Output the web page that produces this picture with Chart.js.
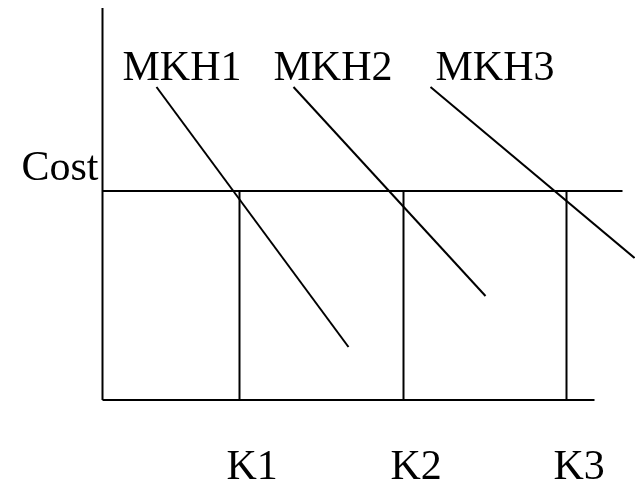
<!DOCTYPE html>
<html>
<head>
<meta charset="utf-8">
<script src="https://cdn.jsdelivr.net/npm/chart.js@4.4.1/dist/chart.umd.min.js"></script>
<style>
  html, body { margin: 0; padding: 0; background: #fff; }
  #wrap { width: 635px; height: 484px; }
</style>
</head>
<body>
<div id="wrap"><canvas id="c" width="635" height="484"></canvas></div>
<script>
// === data (quantity on x, cost on y; origin at the axes' corner) ===
const axisTopY = 39.2;
const axisRightX = 49.2;
const costLevel = 20.9;
const costEndX = 52.0;

const kNames = ["K1", "K2", "K3"];
const kValues = [13.7, 30.1, 46.4];

const curveNames = ["MKH1", "MKH2", "MKH3"];
const curveStartX = [5.4, 19.1, 32.8];
const curveStartY = [31.3, 31.3, 31.3];
const curveEndX = [24.6, 38.3, 53.2];
const curveEndY = [5.3, 10.4, 14.2];

const costName = "Cost";

// text anchors (left / baseline), in the same units
const curveLabelAt = [[2.0, 32.0], [17.1, 32.0], [33.3, 32.0]];
const costLabelAt = [-8.1, 22.0];
const kLabelY = -7.9;
const kLabelDx = -1.3;

// === datasets ===
const lineStyle = {
  borderColor: "#000",
  borderWidth: 2,
  pointRadius: 0,
  showLine: true,
  fill: false,
  tension: 0,
};

const datasets = [];
datasets.push({ ...lineStyle, data: [{ x: 0, y: 0 }, { x: 0, y: axisTopY }] });
datasets.push({ ...lineStyle, data: [{ x: 0, y: 0 }, { x: axisRightX, y: 0 }] });
datasets.push({ ...lineStyle, data: [{ x: 0, y: costLevel }, { x: costEndX, y: costLevel }] });
kValues.forEach((k) => {
  datasets.push({ ...lineStyle, data: [{ x: k, y: 0 }, { x: k, y: costLevel }] });
});
curveNames.forEach((n, i) => {
  datasets.push({
    ...lineStyle,
    label: n,
    data: [
      { x: curveStartX[i], y: curveStartY[i] },
      { x: curveEndX[i], y: curveEndY[i] },
    ],
  });
});

// 文字標籤
const textPlugin = {
  id: "textLabels",
  afterDatasetsDraw(chart) {
    const { ctx, scales } = chart;
    const px = (v) => scales.x.getPixelForValue(v);
    const py = (v) => scales.y.getPixelForValue(v);
    ctx.save();
    ctx.fillStyle = "#000";
    ctx.font = '42px "Liberation Serif", "Times New Roman", serif';
    ctx.textAlign = "left";
    ctx.textBaseline = "alphabetic";
    curveNames.forEach((n, i) => {
      ctx.fillText(n, px(curveLabelAt[i][0]), py(curveLabelAt[i][1]));
    });
    ctx.fillText(costName, px(costLabelAt[0]), py(costLabelAt[1]));
    kNames.forEach((n, i) => {
      ctx.fillText(n, px(kValues[i] + kLabelDx), py(kLabelY));
    });
    ctx.restore();
  },
};

new Chart(document.getElementById("c"), {
  type: "scatter",
  data: { datasets },
  options: {
    responsive: false,
    animation: false,
    devicePixelRatio: 1,
    layout: { padding: 0 },
    plugins: { legend: { display: false }, tooltip: { enabled: false } },
    scales: {
      x: { type: "linear", display: false, min: -10.25, max: 53.25 },
      y: { type: "linear", display: false, min: -8.4, max: 40 },
    },
  },
  plugins: [textPlugin],
});
</script>
</body>
</html>
